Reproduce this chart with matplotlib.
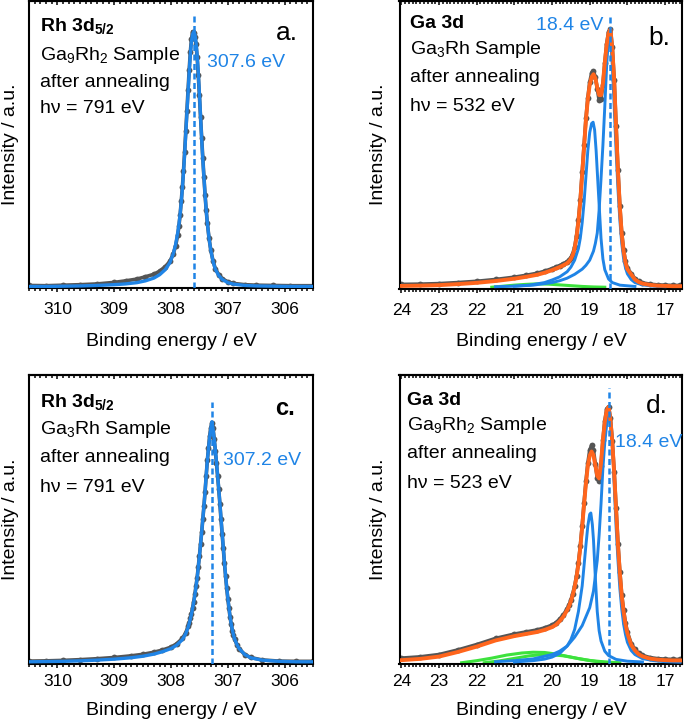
import matplotlib
matplotlib.use("Agg")
import matplotlib.pyplot as plt
from matplotlib.ticker import MultipleLocator

plt.rcParams['font.family'] = 'Liberation Sans'
plt.rcParams['mathtext.fontset'] = 'custom'
plt.rcParams['mathtext.rm'] = 'Liberation Sans'
plt.rcParams['mathtext.bf'] = 'Liberation Sans:bold'
plt.rcParams['mathtext.it'] = 'Liberation Sans:italic'

BLUE = '#1f84e6'
ORANGE = '#ff651c'
GREEN = '#3de23d'
GRAY = '#555555'

# ---- Rh 3d5/2, Ga9Rh2 (panel a) ----
rh_a_be = [310.5, 310.2, 309.9, 309.6, 309.3, 309.0, 308.8, 308.6, 308.45, 308.3, 308.2, 308.1,
           308.02, 307.96, 307.92, 307.88, 307.86, 307.84, 307.82, 307.80, 307.78, 307.76, 307.74,
           307.72, 307.70, 307.68, 307.66, 307.64, 307.62, 307.60, 307.58, 307.56, 307.54, 307.52,
           307.50, 307.48, 307.46, 307.44, 307.42, 307.40, 307.38, 307.36, 307.33, 307.30, 307.26,
           307.22, 307.16, 307.1, 307.0, 306.9, 306.7, 306.5, 306.2, 305.9, 305.5]
rh_a_fit = [0.002, 0.002, 0.003, 0.004, 0.006, 0.009, 0.012, 0.017, 0.024, 0.035, 0.048, 0.068,
            0.095, 0.13, 0.165, 0.215, 0.245, 0.285, 0.33, 0.385, 0.45, 0.52, 0.60,
            0.68, 0.76, 0.84, 0.91, 0.96, 0.99, 1.0, 0.99, 0.96, 0.91, 0.84,
            0.76, 0.67, 0.58, 0.50, 0.43, 0.36, 0.30, 0.25, 0.19, 0.145, 0.10,
            0.07, 0.045, 0.03, 0.017, 0.011, 0.006, 0.004, 0.003, 0.002, 0.002]
rh_a_data = [0.006, 0.005, 0.007, 0.009, 0.012, 0.018, 0.024, 0.031, 0.04, 0.05, 0.062, 0.08,
             0.10, 0.13, 0.16, 0.205, 0.24, 0.28, 0.335, 0.39, 0.455, 0.53, 0.61,
             0.69, 0.77, 0.85, 0.92, 0.97, 1.0, 0.995, 0.98, 0.95, 0.9, 0.83,
             0.75, 0.665, 0.585, 0.505, 0.43, 0.36, 0.30, 0.25, 0.19, 0.145, 0.102,
             0.072, 0.048, 0.033, 0.02, 0.014, 0.009, 0.007, 0.006, 0.005, 0.005]

# ---- Rh 3d5/2, Ga3Rh (panel c) ----
rh_c_be = [310.5, 310.2, 309.9, 309.6, 309.3, 309.0, 308.7, 308.5, 308.3, 308.15, 308.0, 307.9,
           307.8, 307.74, 307.70, 307.68, 307.66, 307.64, 307.62, 307.60, 307.58, 307.56, 307.54,
           307.52, 307.50, 307.48, 307.46, 307.44, 307.42, 307.40, 307.38, 307.36, 307.34, 307.32,
           307.30, 307.28, 307.26, 307.24, 307.22, 307.20, 307.18, 307.16, 307.14, 307.12, 307.10,
           307.08, 307.06, 307.04, 307.02, 307.00, 306.98, 306.96, 306.94, 306.92, 306.90, 306.88,
           306.84, 306.8, 306.7, 306.6, 306.4, 306.1, 305.8, 305.5]
rh_c_fit = [0.003, 0.004, 0.005, 0.007, 0.010, 0.014, 0.02, 0.026, 0.035, 0.045, 0.058, 0.072,
            0.095, 0.12, 0.145, 0.162, 0.18, 0.2, 0.225, 0.25, 0.28, 0.315, 0.35,
            0.395, 0.44, 0.49, 0.54, 0.595, 0.65, 0.71, 0.78, 0.84, 0.89, 0.935,
            0.97, 1.0, 0.97, 0.93, 0.885, 0.835, 0.78, 0.725, 0.665, 0.6, 0.54,
            0.48, 0.42, 0.365, 0.315, 0.27, 0.23, 0.19, 0.16, 0.135, 0.115, 0.098,
            0.075, 0.058, 0.033, 0.02, 0.01, 0.005, 0.003, 0.003]
rh_c_data = [0.006, 0.007, 0.009, 0.012, 0.016, 0.021, 0.028, 0.034, 0.043, 0.052, 0.064, 0.078,
             0.1, 0.124, 0.15, 0.166, 0.183, 0.203, 0.228, 0.253, 0.283, 0.318, 0.352,
             0.397, 0.442, 0.492, 0.54, 0.595, 0.65, 0.71, 0.775, 0.84, 0.89, 0.94,
             0.975, 0.995, 0.975, 0.93, 0.88, 0.83, 0.775, 0.72, 0.66, 0.595, 0.535,
             0.475, 0.415, 0.36, 0.31, 0.265, 0.225, 0.188, 0.158, 0.133, 0.113, 0.097,
             0.074, 0.057, 0.033, 0.021, 0.011, 0.006, 0.005, 0.005]

# ---- Ga 3d grid (panels b, d) ----
ga_be = [24.0, 23.5, 23.0, 22.5, 22.0, 21.5, 21.0, 20.7, 20.4, 20.2, 20.0, 19.9, 19.8, 19.7, 19.6,
         19.55, 19.5, 19.45, 19.4, 19.35, 19.3, 19.25, 19.2, 19.15, 19.1, 19.05, 19.0, 18.95, 18.9,
         18.85, 18.8, 18.75, 18.7, 18.65, 18.6, 18.55, 18.5, 18.45, 18.4, 18.35, 18.3, 18.25, 18.2,
         18.15, 18.1, 18.05, 18.0, 17.9, 17.8, 17.7, 17.6, 17.4, 17.2, 17.0, 16.8, 16.6]

# panel b: Ga3Rh
ga_b_env = [0.005, 0.006, 0.008, 0.012, 0.017, 0.024, 0.033, 0.04, 0.048, 0.056, 0.066, 0.072, 0.078, 0.085, 0.093,
            0.1, 0.11, 0.125, 0.15, 0.195, 0.255, 0.335, 0.44, 0.545, 0.65, 0.73, 0.785, 0.815, 0.826,
            0.81, 0.775, 0.745, 0.745, 0.79, 0.87, 0.94, 0.985, 1.0, 0.925, 0.8, 0.62, 0.45, 0.31,
            0.205, 0.14, 0.095, 0.07, 0.05, 0.03, 0.02, 0.014, 0.009, 0.006, 0.005, 0.004, 0.004]
ga_b_data = [0.011, 0.012, 0.014, 0.018, 0.023, 0.03, 0.039, 0.046, 0.054, 0.062, 0.072, 0.078, 0.084, 0.091, 0.099,
             0.105, 0.115, 0.13, 0.155, 0.2, 0.26, 0.34, 0.445, 0.55, 0.655, 0.735, 0.795, 0.83, 0.838,
             0.815, 0.77, 0.725, 0.73, 0.785, 0.87, 0.945, 0.99, 1.0, 0.93, 0.805, 0.625, 0.455, 0.315,
             0.21, 0.145, 0.1, 0.074, 0.053, 0.033, 0.023, 0.017, 0.012, 0.009, 0.008, 0.007, 0.007]
ga_b_c1_be = [21.0, 20.5, 20.0, 19.8, 19.6, 19.4, 19.2, 19.1, 19.0, 18.9, 18.85, 18.8, 18.75, 18.7, 18.65,
              18.6, 18.55, 18.5, 18.47, 18.44, 18.4, 18.35, 18.3, 18.25, 18.2, 18.15, 18.1, 18.05, 18.0,
              17.9, 17.8, 17.6, 17.3, 17.0]
ga_b_c1 = [0.004, 0.008, 0.018, 0.025, 0.035, 0.05, 0.07, 0.085, 0.105, 0.14, 0.17, 0.21, 0.3, 0.42, 0.55,
           0.7, 0.86, 0.97, 0.98, 0.95, 0.86, 0.7, 0.53, 0.38, 0.26, 0.17, 0.11, 0.075, 0.052,
           0.03, 0.018, 0.009, 0.004, 0.002]
ga_b_c2_be = [21.5, 21.0, 20.6, 20.2, 20.0, 19.8, 19.6, 19.5, 19.4, 19.3, 19.25, 19.2, 19.15, 19.1, 19.05,
              19.0, 18.95, 18.91, 18.87, 18.83, 18.8, 18.75, 18.7, 18.65, 18.6, 18.5, 18.4, 18.2, 17.8]
ga_b_c2 = [0.002, 0.004, 0.008, 0.018, 0.028, 0.04, 0.06, 0.078, 0.105, 0.15, 0.19, 0.25, 0.33, 0.43, 0.53,
           0.6, 0.635, 0.64, 0.61, 0.53, 0.45, 0.32, 0.19, 0.11, 0.068, 0.032, 0.018, 0.008, 0.003]
ga_b_g_be = [21.6, 21.3, 21.0, 20.7, 20.4, 20.1, 19.8, 19.5, 19.2, 18.9, 18.6]
ga_b_g = [0.0, 0.004, 0.008, 0.011, 0.013, 0.012, 0.009, 0.006, 0.003, 0.001, 0.0]

# panel d: Ga9Rh2
ga_d_env = [0.01, 0.015, 0.024, 0.042, 0.063, 0.087, 0.104, 0.112, 0.12, 0.128, 0.139, 0.148, 0.162, 0.18, 0.205,
            0.22, 0.24, 0.265, 0.295, 0.335, 0.385, 0.45, 0.53, 0.62, 0.7, 0.77, 0.81, 0.825, 0.81,
            0.77, 0.73, 0.72, 0.78, 0.87, 0.94, 0.985, 1.0, 0.95, 0.86, 0.74, 0.6, 0.46, 0.35,
            0.26, 0.2, 0.15, 0.115, 0.07, 0.048, 0.033, 0.025, 0.016, 0.012, 0.01, 0.009, 0.009]
ga_d_data = [0.018, 0.023, 0.032, 0.05, 0.071, 0.095, 0.112, 0.12, 0.128, 0.136, 0.147, 0.156, 0.17, 0.187, 0.21,
             0.225, 0.245, 0.27, 0.3, 0.34, 0.39, 0.455, 0.535, 0.625, 0.71, 0.78, 0.83, 0.85, 0.83,
             0.775, 0.72, 0.71, 0.77, 0.87, 0.945, 0.99, 1.0, 0.955, 0.865, 0.745, 0.605, 0.465, 0.355,
             0.265, 0.205, 0.155, 0.12, 0.075, 0.052, 0.037, 0.029, 0.02, 0.016, 0.014, 0.013, 0.013]
ga_d_c1_be = [21.5, 21.0, 20.5, 20.0, 19.8, 19.6, 19.4, 19.2, 19.0, 18.9, 18.8, 18.75, 18.7, 18.65, 18.6,
              18.55, 18.5, 18.46, 18.42, 18.38, 18.34, 18.3, 18.25, 18.2, 18.15, 18.1, 18.05, 18.0, 17.9,
              17.8, 17.6, 17.3, 17.0, 16.6]
ga_d_c1 = [0.004, 0.008, 0.015, 0.032, 0.045, 0.065, 0.1, 0.145, 0.215, 0.28, 0.4, 0.5, 0.62, 0.76, 0.86,
           0.93, 0.97, 0.965, 0.91, 0.8, 0.66, 0.53, 0.4, 0.29, 0.21, 0.15, 0.11, 0.08, 0.048,
           0.032, 0.016, 0.008, 0.004, 0.002]
ga_d_c2_be = [21.0, 20.5, 20.2, 20.0, 19.8, 19.6, 19.5, 19.4, 19.3, 19.2, 19.15, 19.1, 19.05, 19.0, 18.97,
              18.93, 18.9, 18.85, 18.8, 18.75, 18.7, 18.6, 18.5, 18.3, 18.0, 17.6]
ga_d_c2 = [0.003, 0.008, 0.014, 0.022, 0.036, 0.065, 0.09, 0.13, 0.2, 0.3, 0.38, 0.46, 0.535, 0.58, 0.585,
           0.54, 0.48, 0.33, 0.2, 0.125, 0.085, 0.045, 0.028, 0.013, 0.006, 0.003]
ga_d_g1_be = [22.4, 22.0, 21.6, 21.2, 20.8, 20.5, 20.2, 19.9, 19.6, 19.3, 19.0, 18.6, 18.2]
ga_d_g1 = [0.0, 0.008, 0.018, 0.03, 0.038, 0.041, 0.04, 0.034, 0.025, 0.016, 0.009, 0.003, 0.0]
ga_d_g2_be = [21.8, 21.4, 21.0, 20.6, 20.3, 20.0, 19.7, 19.4, 19.1, 18.8, 18.4]
ga_d_g2 = [0.0, 0.007, 0.017, 0.027, 0.031, 0.031, 0.027, 0.019, 0.011, 0.004, 0.0]

W, H = 685, 725
fig = plt.figure(figsize=(W / 100, H / 100), dpi=100)


def add_ax(left, top, right, bottom):
    return fig.add_axes([left / W, 1 - bottom / H, (right - left) / W, (bottom - top) / H])


def ftext(x, y, s, **kw):
    kw.setdefault('va', 'baseline')
    fig.text(x / W, 1 - y / H, s, **kw)


def style(ax, xlim, ylim, pad):
    ax.set_xlim(*xlim)
    ax.set_ylim(*ylim)
    ax.set_yticks([])
    ax.xaxis.set_major_locator(MultipleLocator(1))
    ax.xaxis.set_minor_locator(MultipleLocator(0.1))
    ax.tick_params(axis='x', which='both', bottom=True, top=False, direction='out',
                   width=1.1, labelsize=12.5, pad=pad)
    ax.tick_params(axis='x', which='major', length=3.2)
    ax.tick_params(axis='x', which='minor', length=2.0)
    sec = ax.secondary_xaxis('top')
    sec.xaxis.set_major_locator(MultipleLocator(1))
    sec.xaxis.set_minor_locator(MultipleLocator(0.1))
    sec.tick_params(which='both', direction='in', width=1.1, labeltop=False)
    sec.tick_params(which='major', length=3.2)
    sec.tick_params(which='minor', length=2.0)
    sec.spines['top'].set_linewidth(1.5)
    for s in ax.spines.values():
        s.set_linewidth(1.5)


def data_plot(ax, be, y):
    # measured points: thin band for the dense tails, dots under the fit lines
    ax.plot(be, y, color=GRAY, lw=2.6, zorder=1, solid_capstyle='round')
    ax.plot(be, y, 'o', color=GRAY, ms=4.2, mew=0, zorder=2.5)


ax_a = add_ax(29, 1, 313, 288)
ax_b = add_ax(399.5, 1, 682, 288.5)
ax_c = add_ax(29, 375, 313, 663.5)
ax_d = add_ax(399.5, 375, 682, 664)

# panel a
data_plot(ax_a, rh_a_be, rh_a_data)
ax_a.plot(rh_a_be, rh_a_fit, color=BLUE, lw=2.4, zorder=4)
ax_a.axvline(307.6, ymin=0, ymax=0.955, color=BLUE, lw=1.8, ls=(0, (2.4, 1.4)), zorder=5)
style(ax_a, (310.5, 305.5), (-0.004, 1.12), 7)

# panel c
data_plot(ax_c, rh_c_be, rh_c_data)
ax_c.plot(rh_c_be, rh_c_fit, color=BLUE, lw=2.4, zorder=4)
ax_c.axvline(307.28, ymin=0, ymax=0.907, color=BLUE, lw=1.8, ls=(0, (2.4, 1.4)), zorder=5)
style(ax_c, (310.5, 305.5), (-0.004, 1.194), 4)

# panel b
data_plot(ax_b, ga_be, ga_b_data)
ax_b.plot(ga_b_g_be, ga_b_g, color=GREEN, lw=2.2, zorder=2)
ax_b.plot(ga_b_c1_be, ga_b_c1, color=BLUE, lw=2.1, zorder=3)
ax_b.plot(ga_b_c2_be, ga_b_c2, color=BLUE, lw=2.1, zorder=3)
ax_b.plot(ga_be, ga_b_env, color=ORANGE, lw=2.8, zorder=4)
ax_b.axvline(18.47, ymin=0, ymax=0.955, color=BLUE, lw=1.8, ls=(0, (2.4, 1.4)), zorder=5)
style(ax_b, (24.05, 16.55), (-0.005, 1.11), 7)

# panel d
data_plot(ax_d, ga_be, ga_d_data)
ax_d.plot(ga_d_g1_be, ga_d_g1, color=GREEN, lw=2.2, zorder=2)
ax_d.plot(ga_d_g2_be, ga_d_g2, color=GREEN, lw=2.2, zorder=2)
ax_d.plot(ga_d_c1_be, ga_d_c1, color=BLUE, lw=2.1, zorder=3)
ax_d.plot(ga_d_c2_be, ga_d_c2, color=BLUE, lw=2.1, zorder=3)
ax_d.plot(ga_be, ga_d_env, color=ORANGE, lw=2.8, zorder=4)
ax_d.axvline(18.49, ymin=0, ymax=0.955, color=BLUE, lw=1.8, ls=(0, (2.4, 1.4)), zorder=5)
style(ax_d, (24.05, 16.55), (-0.005, 1.124), 4)

# axis labels
for cx, cy in [(171, 346.5), (541, 346.5), (171, 715), (541, 715)]:
    ftext(cx, cy, 'Binding energy / eV', ha='center', fontsize=14)
for cx, cy in [(10.5, 144.5), (379, 144.5), (10.5, 519), (379, 519)]:
    ftext(cx, cy, 'Intensity / a.u.', ha='center', va='center', rotation=90, fontsize=14)

# annotations
def block(x, ys, title, lines):
    ftext(x, ys[0], title, fontsize=14, fontweight='bold')
    for y, s in zip(ys[1:], lines):
        ftext(x, y, s, fontsize=14)

block(39.5, [31, 60, 87, 113], r'Rh 3d$_\mathbf{5/2}$',
      [r'Ga$_9$Rh$_2$ Sample', 'after annealing', 'h\u03bd = 791 eV'])
block(410, [28.5, 54, 82, 111], 'Ga 3d',
      [r'Ga$_3$Rh Sample', 'after annealing', 'h\u03bd = 532 eV'])
block(39.5, [406.7, 434, 462, 492], r'Rh 3d$_\mathbf{5/2}$',
      [r'Ga$_3$Rh Sample', 'after annealing', 'h\u03bd = 791 eV'])
block(406.7, [405, 430, 458.3, 488], 'Ga 3d',
      [r'Ga$_9$Rh$_2$ Sample', 'after annealing', 'h\u03bd = 523 eV'])

ftext(298, 40, 'a.', ha='right', fontsize=19)
ftext(670, 45, 'b.', ha='right', fontsize=19)
ftext(295, 415, 'c.', ha='right', fontsize=17, fontweight='bold')
ftext(668, 413, 'd.', ha='right', fontsize=19)

ftext(206.7, 66.7, '307.6 eV', color=BLUE, fontsize=14)
ftext(603, 30, '18.4 eV', ha='right', color=BLUE, fontsize=14)
ftext(222.7, 465, '307.2 eV', color=BLUE, fontsize=14)
ftext(615, 446.7, '18.4 eV', color=BLUE, fontsize=14)

fig.savefig('out.png', dpi=100)
